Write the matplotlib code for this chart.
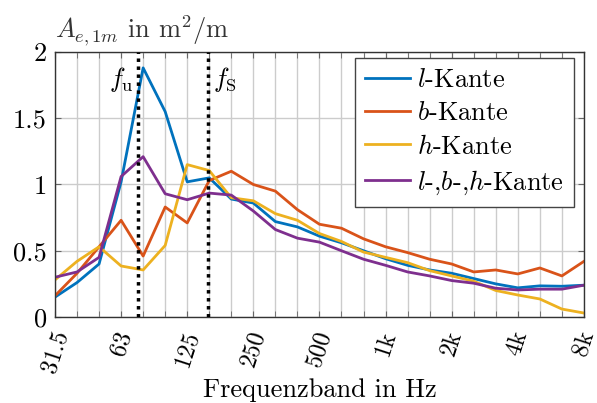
import numpy as np
import matplotlib
matplotlib.use("Agg")
import matplotlib.pyplot as plt

plt.rcParams['font.family'] = 'serif'
plt.rcParams['font.serif'] = ['cmr10']
plt.rcParams['mathtext.fontset'] = 'cm'
plt.rcParams['axes.formatter.use_mathtext'] = True

# third-octave bands 31.5 Hz ... 8 kHz
bands = ["31.5", "40", "50", "63", "80", "100", "125", "160", "200", "250",
         "315", "400", "500", "630", "800", "1k", "1.25k", "1.6k", "2k",
         "2.5k", "3.15k", "4k", "5k", "6.3k", "8k"]
tick_labels = ["31.5", "63", "125", "250", "500", "1k", "2k", "4k", "8k"]

l_kante = [0.15, 0.26, 0.40, 1.02, 1.88, 1.55, 1.02, 1.05, 0.89, 0.86,
           0.72, 0.68, 0.61, 0.56, 0.50, 0.44, 0.39, 0.355, 0.33, 0.29,
           0.25, 0.22, 0.235, 0.232, 0.24]
b_kante = [0.16, 0.33, 0.53, 0.73, 0.46, 0.83, 0.71, 1.03, 1.10, 1.00,
           0.95, 0.81, 0.70, 0.67, 0.59, 0.53, 0.486, 0.436, 0.40, 0.34,
           0.355, 0.325, 0.37, 0.31, 0.42]
h_kante = [0.28, 0.42, 0.53, 0.385, 0.355, 0.54, 1.15, 1.105, 0.90, 0.877,
           0.78, 0.73, 0.63, 0.57, 0.49, 0.45, 0.41, 0.35, 0.31, 0.27,
           0.20, 0.166, 0.136, 0.06, 0.03]
lbh_kante = [0.30, 0.34, 0.45, 1.06, 1.21, 0.93, 0.885, 0.935, 0.92, 0.80,
             0.66, 0.595, 0.565, 0.50, 0.436, 0.39, 0.34, 0.31, 0.275, 0.255,
             0.217, 0.204, 0.21, 0.21, 0.24]

# positions of f_u and f_S in band index units
f_u_pos = 3.77
f_s_pos = 6.93

x = np.arange(len(bands))

fig = plt.figure(figsize=(5.97, 4.03), dpi=100)
ax = fig.add_axes([0.0921, 0.2134, 0.886, 0.6576])

fs = 19
lw = 2.0
ax.plot(x, l_kante, color='#0072BD', lw=lw, label='$l$-Kante')
ax.plot(x, b_kante, color='#D95319', lw=lw, label='$b$-Kante')
ax.plot(x, h_kante, color='#EDB120', lw=lw, label='$h$-Kante')
ax.plot(x, lbh_kante, color='#7E2F8E', lw=lw, label='$l$-,$b$-,$h$-Kante')

ax.axvline(f_u_pos, color='black', lw=2.5, ls=(0, (1, 1.3)), zorder=3)
ax.axvline(f_s_pos, color='black', lw=2.5, ls=(0, (1, 1.3)), zorder=3)
ax.text(f_u_pos - 0.2, 1.79, r'$f_\mathrm{u}$', fontsize=fs, ha='right', va='center')
ax.text(f_s_pos + 0.25, 1.79, r'$f_\mathrm{S}$', fontsize=fs, ha='left', va='center')

ax.set_xlim(0, len(bands) - 1)
ax.set_ylim(0, 2)
ax.set_xticks(x[::3])
ax.set_xticklabels(tick_labels, rotation=72, ha='center', va='top', fontsize=17.5)
ax.set_xticks(x, minor=True)
ax.set_yticks([0, 0.5, 1, 1.5, 2])
ax.set_yticklabels(['0', '0.5', '1', '1.5', '2'], fontsize=fs)

ax.grid(True, which='both', axis='x', color='#cccccc', lw=1)
ax.grid(True, which='major', axis='y', color='#cccccc', lw=1)
ax.set_axisbelow(True)
ax.tick_params(which='both', direction='in', top=True, right=True,
               color='#666666', length=4)
ax.tick_params(axis='x', which='major', pad=8)
ax.tick_params(axis='y', which='major', pad=6)
for s in ax.spines.values():
    s.set_linewidth(1.0)
    s.set_color('#333333')

ax.set_xlabel('Frequenzband in Hz', fontsize=fs, labelpad=2)
ax.text(0.0, 1.015, r'$A_{e,1m}$ in m$^2$/m', transform=ax.transAxes,
        fontsize=fs, ha='left', va='bottom', color='#333333')

leg = ax.legend(loc='upper right', bbox_to_anchor=(0.9815, 0.9785), fontsize=19,
                fancybox=False, framealpha=1, edgecolor='#444444',
                handlelength=1.7, labelspacing=0.36, borderaxespad=0,
                handletextpad=0.25, borderpad=0.4)
leg.get_frame().set_linewidth(1.0)

fig.savefig('out.png', dpi=100)
